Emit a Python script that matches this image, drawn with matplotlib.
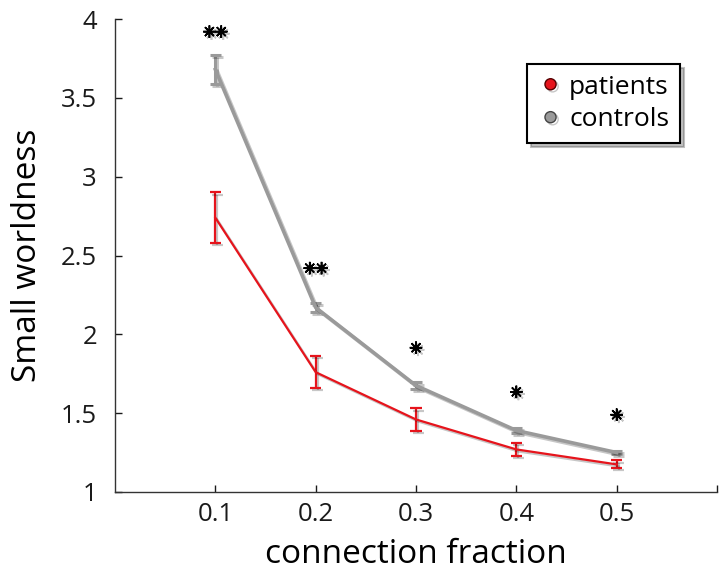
import numpy as np
import matplotlib
matplotlib.use('Agg')
import matplotlib.pyplot as plt
import matplotlib.patheffects as pe
import matplotlib.transforms as mtransforms
from matplotlib.lines import Line2D

plt.rcParams['font.family'] = ['Open Sans', 'DejaVu Sans']

# connection fraction
frac = [0.1, 0.2, 0.3, 0.4, 0.5]
# small worldness, mean and error
controls = [3.68, 2.17, 1.675, 1.39, 1.25]
controls_err = [0.09, 0.03, 0.02, 0.015, 0.01]
patients = [2.74, 1.76, 1.46, 1.27, 1.175]
patients_err = [0.16, 0.10, 0.07, 0.04, 0.025]
# significance stars: height and number
star_y = [3.92, 2.42, 1.915, 1.635, 1.49]
star_n = [2, 2, 1, 1, 1]

xticks = [0.1, 0.2, 0.3, 0.4, 0.5, 0.6]
xticklabels = ['0.1', '0.2', '0.3', '0.4', '0.5', '']
yticks = [1, 1.5, 2, 2.5, 3, 3.5, 4]
yticklabels = ['1', '1.5', '2', '2.5', '3', '3.5', '4']

fig = plt.figure(figsize=(7.25, 5.78), dpi=100)
ax = fig.add_axes([0.1586, 0.1488, 0.8304, 0.8183])

shadow = [pe.SimpleLineShadow(offset=(1.5, -1.5), alpha=0.22), pe.Normal()]

e1 = ax.errorbar(frac, controls, yerr=controls_err, color='#9a9a9a', lw=2.6,
                 elinewidth=2.2, capsize=4, capthick=2.2, zorder=3)
e2 = ax.errorbar(frac, patients, yerr=patients_err, color='#e6141c', lw=1.6,
                 elinewidth=1.6, capsize=4, capthick=1.6, zorder=4)
for eb in (e1, e2):
    for art in eb.lines[0:1] + tuple(eb.lines[1]) + tuple(eb.lines[2]):
        art.set_path_effects(shadow)

# stars
for x, y, n in zip(frac, star_y, star_n):
    for k in range(n):
        dx = (k - (n - 1) / 2) * 8.5 / 72
        tr = ax.transData + mtransforms.ScaledTranslation(dx, 0, fig.dpi_scale_trans)
        ax.plot([x], [y], marker=(8, 2, 0), ms=9, mew=1.2, color='black',
                transform=tr, path_effects=shadow, zorder=5)

ax.set_xlim(0, 0.6)
ax.set_ylim(1, 4)
ax.set_xticks(xticks)
ax.set_xticklabels(xticklabels)
ax.set_yticks(yticks)
ax.set_yticklabels(yticklabels)
ax.tick_params(direction='in', length=5, width=1, labelsize=18.5, colors='#1a1a1a')
ax.tick_params(axis='x', pad=7)
ax.tick_params(axis='y', pad=13)
ax.spines['top'].set_visible(False)
ax.spines['right'].set_visible(False)
for s in ('left', 'bottom'):
    ax.spines[s].set_color('#333333')
    ax.spines[s].set_linewidth(1)

ax.set_xlabel('connection fraction', fontsize=24, labelpad=8)
ax.set_ylabel('Small worldness', fontsize=24, labelpad=12)

handles = [
    Line2D([], [], ls='none', marker='o', ms=8, mfc='#e6141c', mec='#550000', mew=1,
           path_effects=shadow),
    Line2D([], [], ls='none', marker='o', ms=8, mfc='#9a9a9a', mec='#444444', mew=1,
           path_effects=shadow),
]
leg = ax.legend(handles, ['patients', 'controls'], loc='upper left',
                bbox_to_anchor=(0.684, 0.905), fontsize=19, frameon=True,
                fancybox=False, shadow={'ox': 3, 'oy': -3, 'alpha': 0.35},
                handletextpad=0.2, handlelength=1.0, borderpad=0.4,
                labelspacing=0.3, borderaxespad=0)
leg.get_frame().set_edgecolor('black')
leg.get_frame().set_linewidth(1.5)

fig.savefig('out.png', dpi=100)
